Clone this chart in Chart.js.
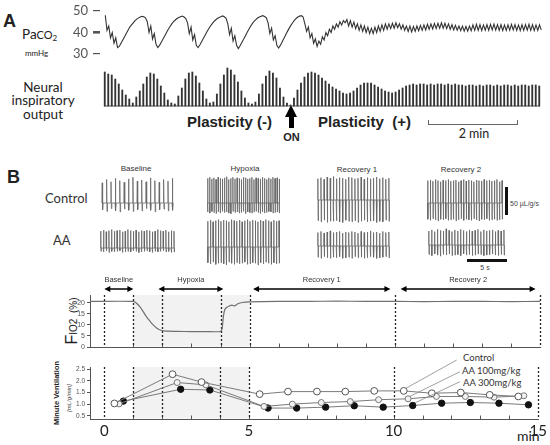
<!DOCTYPE html>
<html><head><meta charset="utf-8">
<script src="https://cdn.jsdelivr.net/npm/chart.js@4.4.1/dist/chart.umd.min.js"></script>
<style>
body{margin:0;background:#fff;}
#wrap{position:relative;width:550px;height:445px;overflow:hidden;font-family:"Liberation Sans",Arial,sans-serif;color:#222;background:#fff;}
.t{position:absolute;white-space:nowrap;line-height:1;transform:translateY(-50%);}
.c{transform:translate(-50%,-50%);}
.lato{font-family:Lato,"Open Sans",sans-serif;}
canvas{position:absolute;}
.bar{position:absolute;}
</style></head><body><div id="wrap">
<div class="t" style="left:3px;top:21px;font-size:18px;font-weight:bold;">A</div>
<div class="t lato" style="left:22px;top:35px;font-size:13.5px;">Pa<span style="font-size:11px">CO<span style="font-size:8px;vertical-align:-2px">2</span></span></div>
<div class="t lato" style="left:25px;top:53px;font-size:8px;">mmHg</div>
<div class="t c lato" style="left:43px;top:88px;font-size:13.5px;">Neural</div>
<div class="t c lato" style="left:43px;top:101px;font-size:13.5px;">inspiratory</div>
<div class="t c lato" style="left:43px;top:114.5px;font-size:13.5px;">output</div>
<div class="t" style="left:187px;top:121px;font-size:15px;font-weight:bold;">Plasticity (-)</div>
<div class="t" style="left:318px;top:121px;font-size:15px;font-weight:bold;">Plasticity&nbsp;&nbsp;(+)</div>
<div class="t c" style="left:291.5px;top:137px;font-size:11px;font-weight:bold;">ON</div>
<div class="t c lato" style="left:474px;top:134px;font-size:12.5px;">2 min</div>
<div class="bar" style="left:284.5px;top:105px;width:0;height:0;border-left:6.5px solid transparent;border-right:6.5px solid transparent;border-bottom:12px solid #000;"></div>
<div class="bar" style="left:288.5px;top:116.5px;width:5px;height:11.5px;background:#000;"></div>
<div class="bar" style="left:428px;top:124px;width:90px;height:1.2px;background:#666;"></div>
<div class="bar" style="left:428px;top:120px;width:1.2px;height:5px;background:#666;"></div>
<div class="bar" style="left:517px;top:120px;width:1.2px;height:5px;background:#666;"></div>

<div class="t" style="left:7px;top:176.5px;font-size:18px;font-weight:bold;">B</div>
<div class="t c" style="left:136px;top:169px;font-size:8px;color:#333;">Baseline</div>
<div class="t c" style="left:245px;top:169px;font-size:8px;color:#333;">Hypoxia</div>
<div class="t c" style="left:357px;top:170px;font-size:8px;color:#333;">Recovery 1</div>
<div class="t c" style="left:461px;top:170px;font-size:8px;color:#333;">Recovery 2</div>
<div class="t lato" style="left:45px;top:198px;font-size:13px;color:#333;">Control</div>
<div class="t lato" style="left:53px;top:240px;font-size:13px;color:#333;">AA</div>
<div class="bar" style="left:505px;top:187px;width:3px;height:28px;background:#111;"></div>
<div class="t" style="left:510px;top:203px;font-size:7px;color:#444;">50 µL/g/s</div>
<div class="bar" style="left:467px;top:258.5px;width:40px;height:3px;background:#111;"></div>
<div class="t c" style="left:485px;top:267px;font-size:7px;color:#444;">5 s</div>

<div class="t c" style="left:72px;top:321px;transform:translate(-50%,-50%) rotate(-90deg);font-size:10px;color:#222;"><span style="font-size:16px">F</span>IO2&nbsp;&nbsp;(%)</div>
<div class="t c" style="left:57px;top:393px;transform:translate(-50%,-50%) rotate(-90deg);font-size:7.5px;font-weight:bold;color:#222;">Minute Ventilation</div>
<div class="t c" style="left:68.5px;top:398px;transform:translate(-50%,-50%) rotate(-90deg);font-size:6px;font-style:italic;color:#444;">[mL/g/min]</div>
<div class="t lato" style="left:463px;top:358px;font-size:9.5px;color:#333;">Control</div>
<div class="t lato" style="left:462px;top:370.7px;font-size:9.5px;color:#333;">AA 100mg/kg</div>
<div class="t lato" style="left:463px;top:382.7px;font-size:9.5px;color:#333;">AA 300mg/kg</div>
<div class="t lato" style="left:517px;top:436px;font-size:14px;color:#222;">min</div>
</div>
<script>
// ---------------- Panel A data ----------------
const paco2Ticks = [30, 40, 50];
const paco2 = [
48,41,43,37.5,40,35,37.5,33,
33.5,35,36.5,38,39.5,41,42.5,43.5,44.5,45.5,46.2,46.8,47.2,
47.5,47.3,46.8,
45,40,43,37,39.5,34.5,
33,
34,35.5,37,38.5,40,41.5,42.8,44,45,45.8,46.5,47,47.3,
47.6,47.2,46.5,
44.5,39.5,42.5,36.5,39,34,
33,
34.2,35.7,37.2,38.7,40.2,41.6,42.9,44,45,45.8,46.5,47,47.3,
47.7,47.3,46.6,
44,39,42,36,38.5,34,
32.5,
33.8,35.3,36.8,38.4,40,41.5,42.9,44.1,45.2,46,46.7,47.2,47.5,
47.8,47.4,46.8,
44.5,39.5,42,36.5,38.5,34,
32.8,
34,35.6,37.2,38.8,40.4,41.9,43.3,44.5,45.6,46.5,47.2,47.6,
47.8,47.2,
44,40.5,42.5,37.5,39.5,35,37,
33.5,
36,34.5,38,36.5,40,38.5,41.5,40,43,41.5,44,42.5,45,43.5,45.5,44.5,
46,
43,45.5,42.5,44.8,41.8,44,41,43.5,40.5,43,40,42.5,39.5,42,39.5,
42.5,40,43,40.5,43.5,41,44,41.5,44,41.8,44.3,42,44.5,42.2,
44,41.5,43.5,41,43,40.5,43,40.3,42.8,40.5,
43,40.8,43.3,41,43.5,41.2,43.8,41.5,44,41.6,44.2,41.8,44.3,42,44.5,42,44.3,
41.8,44,41.5,43.6,41.2,43.3,41,43,40.8,43,40.6,42.8,40.6,43,
40.8,43.5,41,43.8,41,43.6,40.9,43.5,41.1,43.7,41,43.8,41.2,43.9,41.1,43.7,41,43.6,40.9,43.5,
41,43.6,41.1,43.8,41.2,43.7,41,43.5,40.9,43.6,41,43.7,41.1,43.8,41,43.6,40.9,43.5,41,43.6,41.2
];
const neural = [
34,32,31,27,22,16,11,7,
3,
9,15,22,29,33,32,27,20,13,
6,3,2,
10,18,27,33,34,30,23,15,
7,3,4,
12,22,31,38,36,31,24,15,
8,3,2,4,
12,22,30,35,33,28,18,9,
3,1,
8,16,23,29,33,34,33,31,28,25,22,19,17,
15,13,12,13,
15,18,21,23,23,23,
21,19,17,15,14,13,
14,16,18,20,21,
22,21,22,22,21,22,21,22,22,21,22,21,22,21,
21,20,21,21,20,21,20,21,21,20,21,20,21,21,20,21,20,21,21,20,21,21,20
];

// ---------------- Panel B flow traces (µL/g/s, + = up, - = down) ----------------
const ctlBaseUp = [36,42,38,44,40,37,43,46,39,41,38,45,40,37,42,39,44];
const ctlBaseDown = [12,15,10,14,16,11,13,15,12,14,10,13,16,12,11,14,13];
const ctlHypUp = [44,46,43,45,42,46,44,43,45,47,42,44,46,43,45,44,42,46,45,43,44,46,42,45,44,43,46,44,42,45,43,46,44,45,43];
const ctlHypDown = [16,18,15,17,19,16,18,15,17,16,18,19,15,17,16,18,17,15,19,16,17,18,16,15,17,19,16,18,17,15,16,18,17,16,18];
const ctlRec1Up = [38,40,37,41,39,42,38,40,39,37,41,40,38,39,41,37,40,38,39,41,38,40,37,39];
const ctlRec1Down = [37,39,36,40,38,38,37,39,40,36,38,39,37,40,38,36,39,38,37,40,38,39,36,38];
const ctlRec2Up = [40,41,39,42,40,38,41,40,42,39,40,41,38,40,42,39,41,40,38,41,40,39,42,40,41,39,40,42,38,40];
const ctlRec2Down = [29,31,28,30,32,29,30,28,31,30,29,32,30,28,31,29,30,31,28,30,32,29,30,28,31,30,29,31,30,29];
const aaBaseUp = [30,32,29,31,33,30,31,32,29,30,33,31,30,32,29,31,30,32,31,29,30,33,31,30,32,29,31,30];
const aaBaseDown = [6,7,5,8,6,7,6,5,8,7,6,7,5,6,8,7,6,5,7,8,6,7,6,5,7,6,8,7];
const aaHypUp = [46,48,45,47,49,46,48,47,45,49,47,46,48,45,47,49,46,48,47,45,48,46,49,47,45,48,46,47];
const aaHypDown = [28,30,27,31,29,28,30,32,27,29,31,28,30,29,27,31,30,28,29,32,28,30,27,29,31,28,30,29];
const aaRec1Up = [24,26,23,25,27,24,25,26,23,25,24,26,25,23,26,24,25,27,24,25,23,26,24,25];
const aaRec1Down = [20,22,19,21,22,20,21,19,22,21,20,22,19,21,20,22,21,19,20,22,21,20,19,21];
const aaRec2Up = [25,27,24,28,26,25,29,26,24,27,25,28,26,24,27,25,26,28,24,27,25,26,27,24,26,25,27];
const aaRec2Down = [17,19,16,18,20,17,18,16,19,18,17,19,16,18,17,19,18,16,17,19,18,17,16,18,19,17,18];

// ---------------- FIO2 and minute ventilation ----------------
const phaseNames = ['Baseline','Hypoxia','Recovery 1','Recovery 2'];
const phaseArrows = [[0,1],[1.86,4.1],[5.12,9.85],[10.2,14.85]];
const dashTimes = [0,1,2,4,5,10,15];
const shadeRange = [1,5];
const minuteTicks = [1,2,3,4,5,6,7,8,9,10,11,12,13,14];
const fio2TickValues = [0,5,10,15,20];
const fio2Time = [-0.49,1.0,1.1,1.23,1.35,1.46,1.58,1.69,1.8,1.9,2.03,2.5,3.0,3.5,3.98,4.05,4.1,4.15,4.22,4.3,4.4,4.48,4.6,4.75,5.0,6,7,8,9,10,11,12,13,14,15];
const fio2 = [20.7,20.7,20.0,18.2,15.8,13.6,11.6,9.9,8.6,7.8,7.3,7.1,7.0,7.0,7.0,8.0,14.0,17.0,18.0,18.6,19.0,18.6,19.6,20.2,20.5,20.7,20.7,20.8,20.7,20.7,20.6,20.7,20.7,20.6,20.7];
const mvTickValues = [0.5,1.0,1.5,2.0,2.5];
const timeTickValues = [0,5,10,15];
const ctlTime = [0.35,2.36,3.36,5.37,6.35,7.35,8.33,9.33,10.35,11.32,12.32,13.32,14.31];
const ctlMV = [1.03,2.29,1.95,1.43,1.54,1.54,1.54,1.57,1.57,1.47,1.50,1.40,1.33];
const ctlErr = [0.03,0.12,0.08,0.07,0.07,0.07,0.08,0.08,0.08,0.07,0.07,0.07,0.04];
const aa100Time = [0.51,2.52,3.51,5.52,6.5,7.5,8.5,9.48,10.5,11.48,12.48,13.47,14.5];
const aa100MV = [1.01,1.93,1.83,0.90,1.00,1.07,1.11,1.19,1.23,1.33,1.33,1.30,1.36];
const aa100Err = [0.02,0.08,0.05,0.04,0.03,0.04,0.04,0.04,0.04,0.05,0.05,0.05,0.03];
const aa300Time = [0.66,2.64,3.65,5.66,6.65,7.65,8.64,9.64,10.66,11.66,12.65,13.64,14.66];
const aa300MV = [1.13,1.64,1.61,0.83,0.83,0.87,0.93,0.87,0.94,1.04,1.07,1.04,0.97];
const aa300Err = [0.04,0.06,0.05,0.03,0.03,0.04,0.05,0.04,0.04,0.05,0.05,0.05,0.04];

// ---------------- helpers ----------------
const wrap = document.getElementById('wrap');
function mk(left, top, w, h){
  const c = document.createElement('canvas');
  c.width = w; c.height = h;
  c.style.left = left + 'px'; c.style.top = top + 'px';
  c.style.width = w + 'px'; c.style.height = h + 'px';
  wrap.appendChild(c); return c;
}
function baseOpts(){
  return {responsive:false, animation:false, events:[],
    plugins:{legend:{display:false}, tooltip:{enabled:false}}};
}
const lato = 'Lato, "Open Sans", sans-serif';
const arial = '"Liberation Sans", Arial, sans-serif';
const noPad = s => { s.paddingTop = 0; s.paddingBottom = 0; };

// ---------------- PaCO2 ----------------
{
  const o = baseOpts();
  o.layout = {padding:0};
  o.scales = {
    x:{type:'linear', display:false, min:-3, max:250},
    y:{min:27.2, max:55.1,
       afterFit:s=>{s.width=45; noPad(s);},
       afterBuildTicks:s=>{s.ticks = paco2Ticks.map(v=>({value:v}));},
       grid:{drawOnChartArea:false, drawTicks:true, tickLength:7, color:'#555',
             lineWidth:c=>(c.tick && c.tick.value===40)?2.6:1.2},
       border:{display:false},
       ticks:{padding:5, color:'#555', font:{family:lato, size:13}}}
  };
  new Chart(mk(55,0,488,60), {type:'line',
    data:{datasets:[{data:paco2.map((v,j)=>({x:j,y:v})), borderColor:'#333', borderWidth:1.1, pointRadius:0, tension:0}]},
    options:o});
}
// ---------------- Neural output ----------------
{
  const o = baseOpts();
  o.layout = {padding:0};
  o.scales = {x:{display:false}, y:{display:false, min:-1, max:44}};
  const basePlug = {id:'baseline', beforeDatasetsDraw(ch){
    const {ctx, chartArea:a, scales:{y}} = ch; const py = y.getPixelForValue(0);
    ctx.save(); ctx.strokeStyle='#555'; ctx.lineWidth=1.2; ctx.beginPath();
    ctx.moveTo(a.left+1, py); ctx.lineTo(a.right-1, py); ctx.stroke(); ctx.restore();
  }};
  new Chart(mk(103.25,62,438,45), {type:'bar',
    data:{labels:neural.map((_,i)=>i), datasets:[{data:neural, backgroundColor:'#333', barThickness:1.2, borderWidth:0}]},
    options:o, plugins:[basePlug]});
}
// ---------------- Panel B traces ----------------
function trace(left, mid, w, up, down){
  const pts = [];
  for (let i=0;i<up.length;i++){
    pts.push({x:i, y:0}, {x:i+0.08, y:up[i]}, {x:i+0.17, y:-down[i]}, {x:i+0.27, y:0});
  }
  const o = baseOpts();
  o.layout = {padding:0};
  o.scales = {x:{type:'linear', display:false, min:-0.2, max:up.length-0.55}, y:{display:false, min:-50, max:50}};
  new Chart(mk(left, mid-28, w, 56), {type:'line',
    data:{datasets:[{data:pts, borderColor:'#666', borderWidth:0.8, pointRadius:0, tension:0}]},
    options:o});
}
trace(101,203,73,ctlBaseUp,ctlBaseDown);
trace(207,203,73,ctlHypUp,ctlHypDown);
trace(317,200,73,ctlRec1Up,ctlRec1Down);
trace(427,203,76,ctlRec2Up,ctlRec2Down);
trace(100,248,75,aaBaseUp,aaBaseDown);
trace(207,247,73,aaHypUp,aaHypDown);
trace(317,246,73,aaRec1Up,aaRec1Down);
trace(428,245,77,aaRec2Up,aaRec2Down);

// ---------------- shared decoration for the time plots ----------------
const deco = {id:'deco', beforeDatasetsDraw(ch){
  const {ctx, chartArea:a, scales:{x}} = ch;
  ctx.save();
  const x1 = x.getPixelForValue(shadeRange[0]), x2 = x.getPixelForValue(shadeRange[1]);
  ctx.fillStyle = '#f2f2f2'; ctx.fillRect(x1, a.top, x2-x1, a.bottom-a.top-0.5);
  ctx.strokeStyle = '#555'; ctx.lineWidth = 1;
  for (const t of minuteTicks){ const px = Math.round(x.getPixelForValue(t))+0.5;
    ctx.beginPath(); ctx.moveTo(px, a.bottom); ctx.lineTo(px, a.bottom-3.5); ctx.stroke(); }
  ctx.strokeStyle = '#222'; ctx.lineWidth = 1.3; ctx.setLineDash([2,2]);
  for (const t of dashTimes){ const px = Math.round(x.getPixelForValue(t))+0.5;
    ctx.beginPath(); ctx.moveTo(px, a.top); ctx.lineTo(px, a.bottom); ctx.stroke(); }
  ctx.restore();
}};
function timeX(showLabels){
  return {type:'linear', min:-0.493, max:15,
    afterBuildTicks:s=>{s.ticks = timeTickValues.map(v=>({value:v}));},
    afterFit:s=>{s.height = showLabels?22:0;},
    grid:{display:false, drawTicks:false},
    border:{display:true, color:'#555', width:1},
    ticks:{display:showLabels, autoSkip:false, maxRotation:0, padding:3, color:'#222', font:{family:lato, size:15}}};
}
// ---------------- FIO2 ----------------
{
  const o = baseOpts();
  o.layout = {padding:{top:25, right:10, bottom:13, left:0}};
  o.scales = {
    x: timeX(false),
    y:{min:0, max:23.6, afterFit:s=>{s.width=50;},
       afterBuildTicks:s=>{s.ticks = fio2TickValues.map(v=>({value:v}));},
       grid:{drawOnChartArea:false, drawTicks:true, tickLength:3, color:'#555'},
       border:{display:true, color:'#555', width:1},
       ticks:{padding:2, color:'#555', font:{family:arial, size:7}}}
  };
  const arrows = {id:'arrows', afterDraw(ch){
    const {ctx, chartArea:a, scales:{x}} = ch; const py = a.top - 6;
    ctx.save(); ctx.strokeStyle='#000'; ctx.fillStyle='#000'; ctx.lineWidth=1.5;
    phaseArrows.forEach(([t0,t1], k)=>{
      const p0 = x.getPixelForValue(t0), p1 = x.getPixelForValue(t1);
      ctx.beginPath(); ctx.moveTo(p0+4, py); ctx.lineTo(p1-4, py); ctx.stroke();
      ctx.beginPath(); ctx.moveTo(p0, py); ctx.lineTo(p0+6, py-3); ctx.lineTo(p0+6, py+3); ctx.closePath(); ctx.fill();
      ctx.beginPath(); ctx.moveTo(p1, py); ctx.lineTo(p1-6, py-3); ctx.lineTo(p1-6, py+3); ctx.closePath(); ctx.fill();
      const d = document.createElement('div'); d.className='t c'; d.textContent = phaseNames[k];
      d.style.cssText += 'font-size:7.5px;color:#333;left:'+(40+(p0+p1)/2)+'px;top:'+(270+py-9)+'px;';
      wrap.appendChild(d);
    });
    ctx.restore();
  }};
  new Chart(mk(40,270,510,90), {type:'line',
    data:{datasets:[{data:fio2Time.map((t,i)=>({x:t,y:fio2[i]})), borderColor:'#707070', borderWidth:1.2, pointRadius:0, tension:0.25}]},
    options:o, plugins:[deco, arrows]});
}
// ---------------- Minute ventilation ----------------
{
  const o = baseOpts();
  o.layout = {padding:{top:10, right:10, bottom:0, left:0}};
  o.scales = {
    x: timeX(true),
    y:{min:0.359, max:2.6, afterFit:s=>{s.width=50;},
       afterBuildTicks:s=>{s.ticks = mvTickValues.map(v=>({value:v}));},
       grid:{drawOnChartArea:false, drawTicks:true, tickLength:3, color:'#555'},
       border:{display:true, color:'#555', width:1},
       ticks:{padding:2, color:'#555', font:{family:arial, size:6.5}, callback:v=>Number(v).toFixed(1)}}
  };
  const errs = [ctlErr, aa100Err, aa300Err];
  const errPlug = {id:'err', beforeDatasetsDraw(ch){
    const {ctx, scales:{y}} = ch; ctx.save(); ctx.strokeStyle='#555'; ctx.lineWidth=1;
    ch.data.datasets.forEach((ds, d)=>{
      ds.data.forEach((p, i)=>{ const px = ch.scales.x.getPixelForValue(p.x);
        ctx.beginPath(); ctx.moveTo(px, y.getPixelForValue(p.y+errs[d][i])); ctx.lineTo(px, y.getPixelForValue(p.y-errs[d][i])); ctx.stroke(); });
    });
    ctx.restore();
  }, afterDatasetsDraw(ch){
    const {ctx} = ch; ctx.save(); ctx.strokeStyle='#888'; ctx.lineWidth=0.8;
    const ends = [[416.7,3],[420,14.7],[420,24.7]];
    [0,1,2].forEach(d=>{ const el = ch.getDatasetMeta(d).data[8];
      ctx.beginPath(); ctx.moveTo(el.x+2, el.y-2.5); ctx.lineTo(ends[d][0], ends[d][1]); ctx.stroke(); });
    ctx.restore();
  }};
  const mkDs = (tArr, vArr, fill, border, r) => ({data:tArr.map((t,i)=>({x:t,y:vArr[i]})),
    borderColor:'#7a7a7a', borderWidth:1, pointRadius:r, pointBackgroundColor:fill, pointBorderColor:border, pointBorderWidth:1, tension:0});
  new Chart(mk(40,357,510,84), {type:'line',
    data:{datasets:[mkDs(ctlTime, ctlMV, '#ffffff', '#555', 3.4), mkDs(aa100Time, aa100MV, '#f2f2f2', '#777', 3), mkDs(aa300Time, aa300MV, '#111', '#111', 3.2)]},
    options:o, plugins:[deco, errPlug]});
}
</script>
</body></html>
